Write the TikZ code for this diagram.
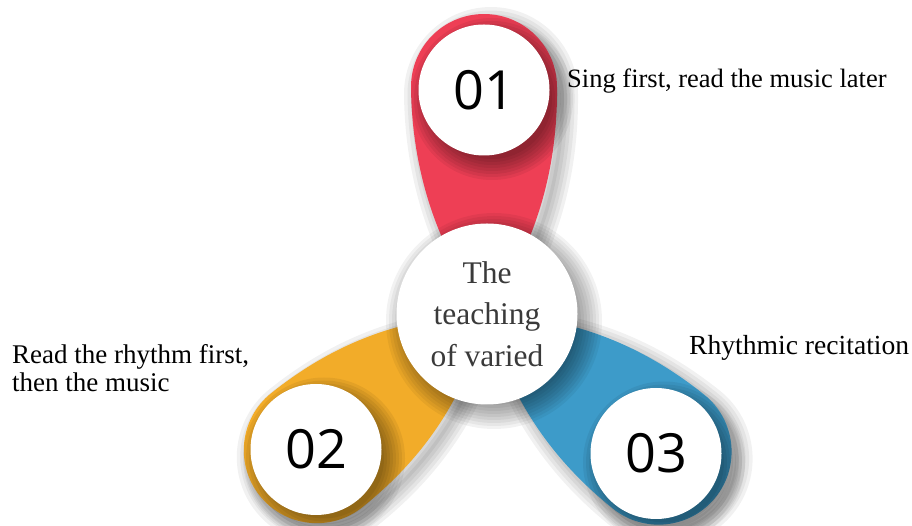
\documentclass[tikz,border=0pt]{standalone}
\usepackage{fontspec}
\setmainfont{Liberation Serif}
\newfontfamily\numfont{Open Sans}
\usetikzlibrary{calc}

\definecolor{petalred}{HTML}{EE3F55}
\definecolor{petalorange}{HTML}{F2AC29}
\definecolor{petalblue}{HTML}{3D9BC9}
\definecolor{hubtext}{HTML}{3A3A3A}

% teardrop petal: tip at the origin, round cap of radius #2 centred at (#1,0)
\newcommand\petalshape[2]{%
  (#1,#2) arc[start angle=90,end angle=-90,radius=#2]
  .. controls ({#1-90},-#2) and (60,-45) .. (0,0)
  .. controls (60,45) and ({#1-90},#2) .. cycle}

\tikzset{
  numcircle/.style={circle, fill=white, minimum size=131pt, inner sep=0pt,
    font=\numfont\fontsize{54}{54}\selectfont, text=black},
  hubcircle/.style={circle, fill=white, minimum size=181pt, inner sep=0pt,
    align=center, text=hubtext, font=\fontsize{31.5}{41.5}\selectfont},
  sidelabel/.style={inner sep=0pt, text=black, font=\fontsize{27}{28}\selectfont},
  softshade/.style={black, opacity=0.055},
}

\begin{document}
\begin{tikzpicture}[x=1pt,y=1pt]
\useasboundingbox (0,0) rectangle (912,526);
\coordinate (hubc) at (487,212);

% blurred shadows of the three petals
\foreach \ang/\len in {90.76/227, 218.66/218, -38.74/220}{
  \begin{scope}[shift={(494,205)}, rotate=\ang]
    \foreach \w in {28,21,14,7}
      \draw[softshade, line width=\w, line join=round] \petalshape{\len}{73};
    \fill[softshade] \petalshape{\len}{73};
  \end{scope}
}

% petals
\begin{scope}[shift={(hubc)}, rotate=90.76]
  \fill[petalred] \petalshape{227}{73};
\end{scope}
\begin{scope}[shift={(hubc)}, rotate=218.66]
  \fill[petalorange] \petalshape{218}{73};
\end{scope}
\begin{scope}[shift={(hubc)}, rotate=-38.74]
  \fill[petalblue] \petalshape{220}{73};
\end{scope}

% shadows of the numbered discs
\foreach \x/\y in {484/436, 316/76.5, 656/72.5}{
  \foreach \k in {0,...,7}
    \fill[black, opacity=0.06] (\x+8,\y-9) circle ({60+3*\k});
}

% numbered discs
\node[numcircle] (n1) at (484,436)  {01};
\node[numcircle] (n2) at (316,76.5) {02};
\node[numcircle] (n3) at (656,72.5) {03};

% shadow of the hub
\foreach \k in {0,...,8}
  \fill[black, opacity=0.05] (494,205) circle ({84+3*\k});

% hub
\node[hubcircle] (hub) at (hubc) {The\\teaching\\of varied};

% side labels
\node[sidelabel, anchor=base west, font=\fontsize{26.5}{28}\selectfont] (t1) at (567,438)
  {Sing first, read the music later};
\node[sidelabel, anchor=base west, font=\fontsize{27.6}{28}\selectfont] (t3) at (689,171)
  {Rhythmic recitation};
\node[sidelabel, anchor=north west, align=left] (t2) at (12,181.5)
  {Read the rhythm first,\\then the music};
\end{tikzpicture}
\end{document}
